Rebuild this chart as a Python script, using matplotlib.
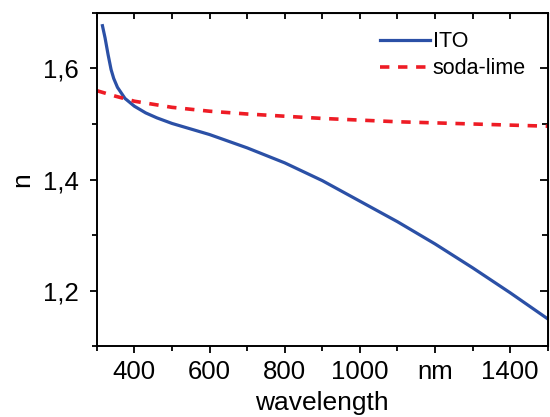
import matplotlib
matplotlib.use("Agg")
import matplotlib.pyplot as plt
from matplotlib.ticker import FixedLocator, FuncFormatter

plt.rcParams['font.family'] = ['Liberation Sans', 'DejaVu Sans']

# ITO refractive index
ito_wl = [315, 322, 330, 338, 345, 355, 375, 400, 430, 460, 500, 600, 700, 800,
          900, 1000, 1100, 1200, 1300, 1400, 1500]
ito_n = [1.677, 1.655, 1.625, 1.598, 1.582, 1.566, 1.546, 1.532, 1.520, 1.511, 1.501,
         1.481, 1.457, 1.430, 1.398, 1.361, 1.324, 1.284, 1.241, 1.196, 1.149]

# soda-lime glass
glass_wl = [300, 350, 400, 500, 600, 700, 800, 900, 1000, 1100, 1200, 1300, 1400, 1500]
glass_n = [1.560, 1.550, 1.541, 1.530, 1.523, 1.518, 1.514, 1.510, 1.507,
           1.504, 1.502, 1.500, 1.498, 1.496]

x_major = [400, 600, 800, 1000, 1200, 1400]
x_labels = ['400', '600', '800', '1000', 'nm', '1400']
x_minor = [300, 500, 700, 900, 1100, 1300, 1500]
y_major = [1.2, 1.4, 1.6]
y_minor = [1.1, 1.3, 1.5, 1.7]

fig = plt.figure(figsize=(5.5, 4.17), dpi=100)
ax = fig.add_axes([0.176, 0.170, 0.820, 0.799])

ax.plot(ito_wl, ito_n, color='#2B50A6', linewidth=2.3, label='ITO')
ax.plot(glass_wl, glass_n, color='#EE1C25', linewidth=2.6,
        linestyle=(0, (2.6, 2.4)), label='soda-lime')

ax.set_xlim(300, 1500)
ax.set_ylim(1.1, 1.7)

ax.set_xticks(x_major)
ax.set_xticklabels(x_labels)
ax.xaxis.set_minor_locator(FixedLocator(x_minor))
ax.set_yticks(y_major)
ax.yaxis.set_major_formatter(FuncFormatter(lambda v, p: f'{v:.1f}'.replace('.', ',')))
ax.yaxis.set_minor_locator(FixedLocator(y_minor))

for s in ax.spines.values():
    s.set_linewidth(1.4)

ax.tick_params(which='both', direction='out', width=1.3, labelsize=18.5)
ax.tick_params(axis='x', pad=5)
ax.tick_params(axis='y', pad=8)
ax.tick_params(which='major', length=5)
ax.tick_params(which='minor', length=3.5)

# mirrored inward ticks on top and right
top = ax.secondary_xaxis('top')
top.set_xticks(x_major)
top.xaxis.set_minor_locator(FixedLocator(x_minor))
top.tick_params(which='both', direction='in', width=1.3, labeltop=False, length=4.5)
right = ax.secondary_yaxis('right')
right.set_yticks(y_major)
right.yaxis.set_minor_locator(FixedLocator(y_minor))
right.tick_params(which='both', direction='in', width=1.3, labelright=False, length=4.5)
right.tick_params(which='major', length=6)

ax.set_xlabel('wavelength', fontsize=19, labelpad=5)
ax.set_ylabel('n', fontsize=19, labelpad=6)

leg = ax.legend(loc='upper right', frameon=False, fontsize=15.5, handlelength=2.35,
                handletextpad=0.12, borderaxespad=0.3, labelspacing=0.28,
                bbox_to_anchor=(0.985, 0.99))

fig.savefig('out.png', dpi=100)
